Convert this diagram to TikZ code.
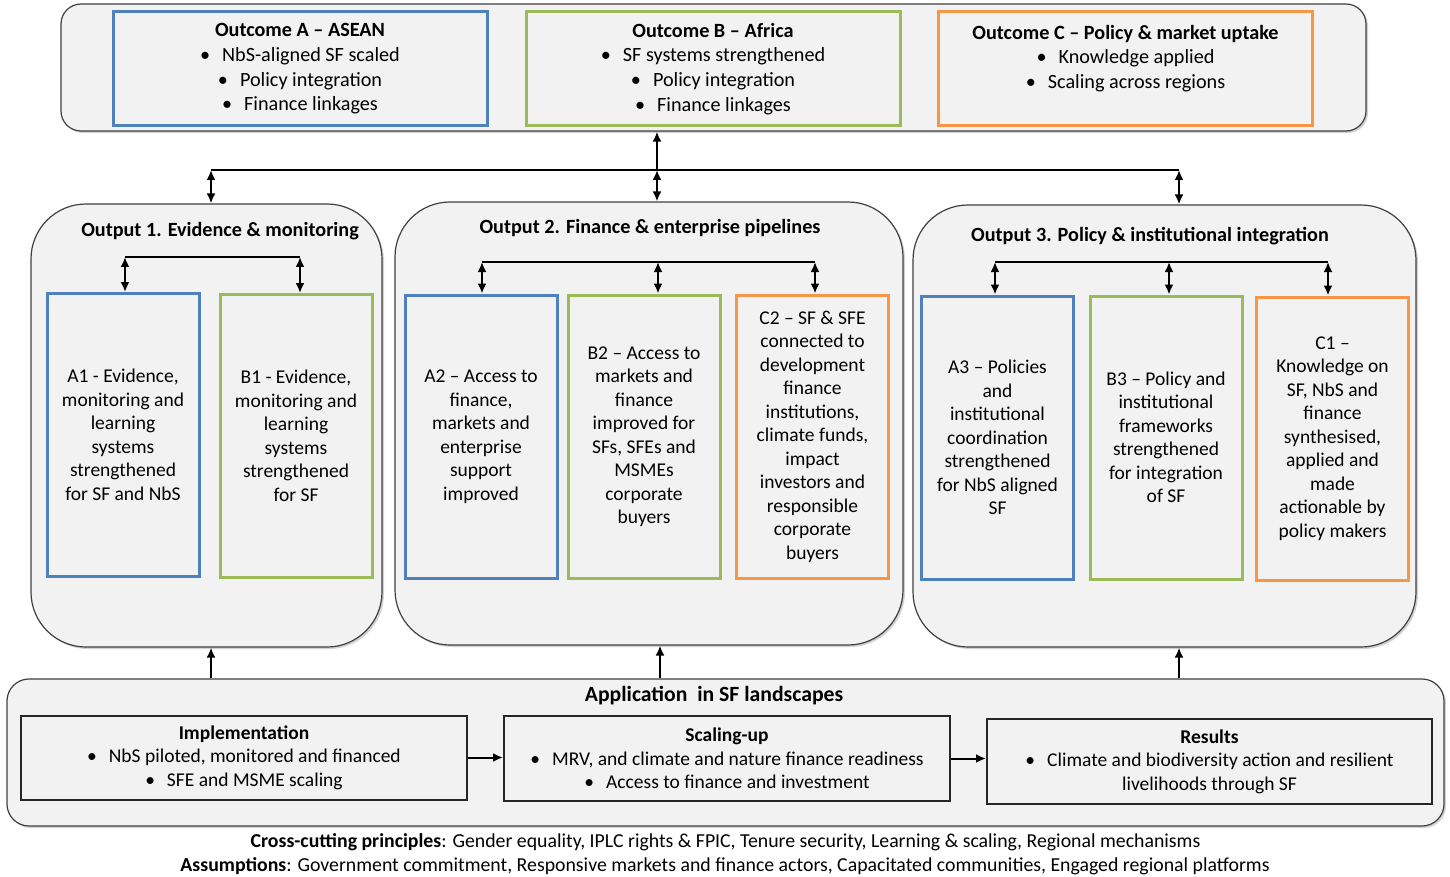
\documentclass[tikz,border=0pt]{standalone}
\usepackage{fontspec}
\setmainfont{Carlito}
\usepackage{tikz}
\usetikzlibrary{arrows.meta,backgrounds,calc,shadows,positioning}
\definecolor{panelgray}{RGB}{242,242,242}
\definecolor{rimgray}{RGB}{64,64,64}
\definecolor{sfblue}{RGB}{79,129,189}
\definecolor{sfgreen}{RGB}{155,187,89}
\definecolor{sforange}{RGB}{247,150,70}
\newcommand{\bul}{\textbullet\hspace{12pt}}

\begin{document}
\fontsize{19.5}{23.5}\selectfont
\begin{tikzpicture}[x=1pt,y=-1pt,>={Latex[length=10pt,width=9pt]},
  panel/.style={draw=rimgray,line width=1.2pt,fill=panelgray,
    drop shadow={shadow xshift=2pt,shadow yshift=-2pt,opacity=0.35}},
  goalbox/.style={draw,line width=3pt,fill=panelgray,align=center,inner sep=0pt,
    minimum width=374pt,minimum height=114pt,font=\fontsize{20.2}{24.7}\selectfont},
  kidbox/.style={draw,line width=3pt,fill=panelgray,align=center,inner sep=0pt,
    minimum width=152pt,minimum height=283pt},
  stagebox/.style={draw=black!85,line width=2pt,fill=panelgray,align=center,inner sep=0pt,
    minimum width=446pt,minimum height=84pt},
  headline/.style={font=\fontsize{20.2}{24.7}\selectfont\bfseries},
  link/.style={line width=2pt,black}]
\useasboundingbox[fill=white] (0,0) rectangle (1450,877);

\node[panel,rounded corners=20pt,minimum width=1305pt,minimum height=127pt] (outcomes) at (713.5,67.5) {};
\node[goalbox,draw=sfblue] (outA) at (300,69) {\textbf{Outcome A – ASEAN}\\ \bul NbS-aligned SF scaled\\ \bul Policy integration\\ \bul Finance linkages};
\node[goalbox,draw=sfgreen] (outB) at (713,69) {\textbf{Outcome B – Africa}\\ \bul SF systems strengthened\\ \bul Policy integration\\ \bul Finance linkages};
\node[goalbox,draw=sforange] (outC) at (1125.5,69) {\textbf{Outcome C – Policy \& market uptake}\\ \bul Knowledge applied\\ \bul Scaling across regions\\ \mbox{}};

\node[panel,rounded corners=55pt,minimum width=351pt,minimum height=443pt] (out1) at (206.5,425.5) {};
\node[panel,rounded corners=55pt,minimum width=508pt,minimum height=443pt] (out2) at (649,423.5) {};
\node[panel,rounded corners=55pt,minimum width=503pt,minimum height=442pt] (out3) at (1164.5,426) {};
\node[headline] (out1title) at (220,231) {Output 1. Evidence \& monitoring};
\node[headline] (out2title) at (650,228) {Output 2. Finance \& enterprise pipelines};
\node[headline] (out3title) at (1150,236) {Output 3. Policy \& institutional integration};

\coordinate (hub) at (657,170);
\coordinate (hubL) at (211,170);
\coordinate (hubR) at (1179,170);
\draw[link,->] (hub) -- (hub |- outcomes.south);
\draw[link] (hubL) -- (hubR);
\draw[link,<->] (hubL) -- (hubL |- out1.north);
\draw[link,<->] (hub) -- (hub |- out2.north);
\draw[link,<->] (hubR) -- (hubR |- out3.north);

\node[kidbox,draw=sfblue] (a1) at (123,435) {A1 - Evidence,\\ monitoring and\\ learning\\ systems\\ strengthened\\ for SF and NbS};
\node[kidbox,draw=sfgreen] (b1) at (296,436) {B1 - Evidence,\\ monitoring and\\ learning\\ systems\\ strengthened\\ for SF};
\node[kidbox,draw=sfblue] (a2) at (481,436.5) {A2 – Access to\\ finance,\\ markets and\\ enterprise\\ support\\ improved};
\node[kidbox,draw=sfgreen] (b2) at (644,436.5) {B2 – Access to\\ markets and\\ finance\\ improved for\\ SFs, SFEs and\\ MSMEs\\ corporate\\ buyers};
\node[kidbox,draw=sforange] (c2) at (812.5,436.5) {C2 – SF \& SFE\\ connected to\\ development\\ finance\\ institutions,\\ climate funds,\\ impact\\ investors and\\ responsible\\ corporate\\ buyers};
\node[kidbox,draw=sfblue] (a3) at (997.5,437.5) {A3 – Policies\\ and\\ institutional\\ coordination\\ strengthened\\ for NbS aligned\\ SF};
\node[kidbox,draw=sfgreen] (b3) at (1166,437.5) {B3 – Policy and\\ institutional\\ frameworks\\ strengthened\\ for integration\\ of SF};
\node[kidbox,draw=sforange] (c1) at (1332.5,438.5) {C1 –\\ Knowledge on\\ SF, NbS and\\ finance\\ synthesised,\\ applied and\\ made\\ actionable by\\ policy makers};

\coordinate (a1top) at (125,257);
\coordinate (b1top) at (300,257);
\draw[link] (a1top) -- (b1top);
\draw[link,<->] (a1top) -- (a1top |- a1.north);
\draw[link,<->] (b1top) -- (b1top |- b1.north);

\coordinate (a2top) at (482,262);
\coordinate (b2top) at (658,262);
\coordinate (c2top) at (815,262);
\draw[link] (a2top) -- (c2top);
\draw[link,<->] (a2top) -- (a2top |- a2.north);
\draw[link,<->] (b2top) -- (b2top |- b2.north);
\draw[link,<->] (c2top) -- (c2top |- c2.north);

\coordinate (a3top) at (995,262);
\coordinate (b3top) at (1169,262);
\coordinate (c1top) at (1328,262);
\draw[link] (a3top) -- (c1top);
\draw[link,<->] (a3top) -- (a3top |- a3.north);
\draw[link,<->] (b3top) -- (b3top |- b3.north);
\draw[link,<->] (c1top) -- (c1top |- c1.north);

\node[panel,rounded corners=22pt,minimum width=1437pt,minimum height=147pt] (app) at (725.5,752.5) {};
\node[font=\fontsize{21.7}{25}\selectfont\bfseries] (apptitle) at (714,696) {Application\ \ in SF landscapes};
\node[stagebox] (impl) at (244,757.5) {\textbf{Implementation}\\ \bul NbS piloted, monitored and financed\\ \bul SFE and MSME scaling};
\node[stagebox,minimum height=85pt] (scale) at (727,758.5) {\textbf{Scaling-up}\\ \bul MRV, and climate and nature finance readiness\\ \bul Access to finance and investment};
\node[stagebox,minimum width=445pt,minimum height=85pt] (results) at (1209.5,761.5) {\textbf{Results}\\ \bul Climate and biodiversity action and resilient\\ livelihoods through SF};
\draw[link,->] (impl.east) -- (impl.east -| scale.west);
\draw[link,->] (scale.east) -- (scale.east -| results.west);

\coordinate (upmid) at (660,0);
\draw[link,->] (app.north -| hubL) -- (out1.south -| hubL);
\draw[link,->] (app.north -| upmid) -- (out2.south -| upmid);
\draw[link,->] (app.north -| hubR) -- (out3.south -| hubR);

\node[font=\fontsize{19.8}{24}\selectfont] (cross) at (725.5,842) {\textbf{Cross-cutting principles}: Gender equality, IPLC rights \& FPIC, Tenure security, Learning \& scaling, Regional mechanisms};
\node[font=\fontsize{19.8}{24}\selectfont] (assume) at (725,866) {\textbf{Assumptions}: Government commitment, Responsive markets and finance actors, Capacitated communities, Engaged regional platforms};
\end{tikzpicture}
\end{document}
